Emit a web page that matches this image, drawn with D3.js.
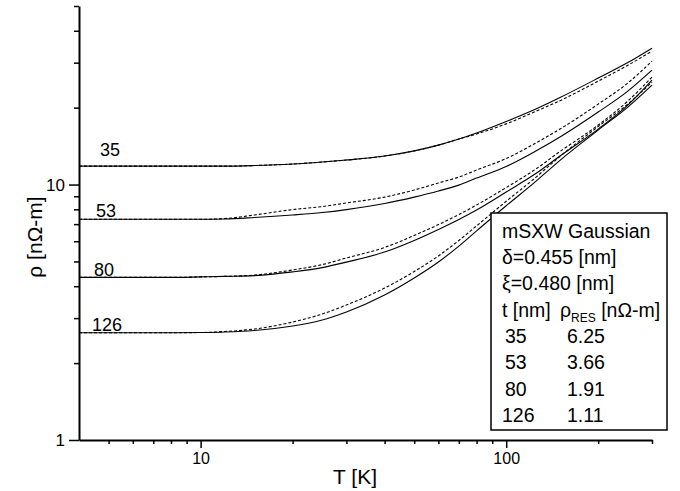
<!DOCTYPE html>
<html>
<head>
<meta charset="utf-8">
<script src="https://d3js.org/d3.v7.min.js"></script>
<style>
  body { margin: 0; background: #fff; }
  text { font-family: Arial, "Liberation Sans", sans-serif; fill: #000; }
</style>
</head>
<body>
<div id="chart"></div>
<script>
const TEMPS = [4, 6, 8, 10, 12, 15, 20, 25, 30, 40, 50, 60, 70, 80, 100, 125, 150, 200, 250, 300];

// measured (solid) and mSXW fit (dashed) resistivity, nOhm-m
const RHO_35_DATA = [11.81, 11.81, 11.81, 11.81, 11.81, 11.87, 12.03, 12.25, 12.47, 12.93, 13.55, 14.27, 15.07, 15.91, 17.65, 19.75, 21.91, 26.11, 30.03, 34.2];
const RHO_35_FIT = [11.81, 11.81, 11.81, 11.81, 11.81, 11.87, 12.03, 12.25, 12.47, 12.93, 13.55, 14.27, 15.07, 15.77, 17.28, 19.35, 21.3, 25.4, 29.3, 33.3];
const RHO_53_DATA = [7.31, 7.31, 7.31, 7.31, 7.33, 7.43, 7.60, 7.77, 7.98, 8.43, 8.93, 9.43, 9.95, 10.60, 11.77, 13.53, 15.35, 19.22, 23.22, 28.06];
const RHO_53_FIT = [7.31, 7.31, 7.31, 7.31, 7.36, 7.60, 7.98, 8.20, 8.47, 8.93, 9.52, 10.14, 10.70, 11.40, 12.64, 14.54, 16.49, 20.65, 24.96, 30.44];
const RHO_80_DATA = [4.33, 4.33, 4.33, 4.35, 4.37, 4.40, 4.55, 4.73, 4.97, 5.44, 6.04, 6.67, 7.30, 7.95, 9.35, 11.04, 12.93, 16.49, 20.47, 25.64];
const RHO_80_FIT = [4.33, 4.33, 4.33, 4.35, 4.37, 4.42, 4.63, 4.86, 5.16, 5.67, 6.32, 6.97, 7.63, 8.32, 9.73, 11.50, 13.47, 17.10, 21.22, 26.35];
const RHO_126_DATA = [2.63, 2.63, 2.63, 2.635, 2.647, 2.683, 2.794, 2.949, 3.170, 3.694, 4.306, 4.973, 5.744, 6.585, 8.26, 10.29, 12.44, 16.34, 20.11, 24.52];
const RHO_126_FIT = [2.63, 2.63, 2.63, 2.635, 2.659, 2.719, 2.896, 3.113, 3.377, 3.934, 4.565, 5.253, 6.04, 6.89, 8.60, 10.67, 12.89, 16.87, 20.65, 25.19];

// curve labels (film thickness)
const THICKNESS = ["35", "53", "80", "126"];
// legend table
const LEGEND_HEAD = ["mSXW Gaussian", "\u03b4=0.455 [nm]", "\u03be=0.480 [nm]"];
const RES_VALUES = ["6.25", "3.66", "1.91", "1.11"];

// tick values
const X_MAJOR = [10, 100];
const X_MINOR = [5, 6, 7, 8, 9, 20, 30, 40, 50, 60, 70, 80, 90, 200, 300];
const Y_MAJOR = [1, 10];
const Y_MINOR = [2, 3, 4, 5, 6, 7, 8, 9, 20, 30, 40, 50];

// frame size
const FRAME_WIDTH = 680;
const FRAME_HEIGHT = 491;

const FRAME = d3.select("#chart")
  .append("svg")
    .attr("width", FRAME_WIDTH)
    .attr("height", FRAME_HEIGHT);

// log scales
const X_SCALE = d3.scaleLog().domain([4, 300]).range([79, 652]);
const Y_SCALE = d3.scaleLog().domain([1, 50]).range([440, 6]);

// curves
const series = [
  {label: THICKNESS[0], data: RHO_35_DATA, fit: RHO_35_FIT, lx: 100, ly: 156},
  {label: THICKNESS[1], data: RHO_53_DATA, fit: RHO_53_FIT, lx: 96, ly: 217},
  {label: THICKNESS[2], data: RHO_80_DATA, fit: RHO_80_FIT, lx: 94, ly: 276},
  {label: THICKNESS[3], data: RHO_126_DATA, fit: RHO_126_FIT, lx: 92, ly: 331}
];

const line = d3.line()
  .x((d) => X_SCALE(d[0]))
  .y((d) => Y_SCALE(d[1]))
  .curve(d3.curveMonotoneX);

series.forEach((s) => {
  FRAME.append("path")
    .attr("d", line(TEMPS.map((t, i) => [t, s.data[i]])))
    .attr("fill", "none")
    .attr("stroke", "#000")
    .attr("stroke-width", 1.1);
  FRAME.append("path")
    .attr("d", line(TEMPS.map((t, i) => [t, s.fit[i]])))
    .attr("fill", "none")
    .attr("stroke", "#000")
    .attr("stroke-width", 1.1)
    .attr("stroke-dasharray", "3,2");
  FRAME.append("text")
    .attr("x", s.lx)
    .attr("y", s.ly)
    .attr("font-size", "18px")
    .text(s.label);
});

// x axis: minor then major ticks
FRAME.append("g")
  .attr("transform", "translate(0,440)")
  .call(d3.axisBottom(X_SCALE).tickValues(X_MINOR).tickSize(4).tickFormat(""))
  .call((g) => g.select(".domain").remove())
  .selectAll("line").attr("stroke-width", 1.5);
FRAME.append("g")
  .attr("transform", "translate(0,440)")
  .call(d3.axisBottom(X_SCALE).tickValues(X_MAJOR).tickSize(8).tickSizeOuter(0).tickPadding(5).tickFormat(d3.format("d")))
  .call((g) => g.selectAll("text").style("font-size", "16px"))
  .call((g) => g.select(".domain").attr("stroke-width", 2))
  .selectAll("line").attr("stroke-width", 1.5);

// y axis
FRAME.append("g")
  .attr("transform", "translate(79,0)")
  .call(d3.axisLeft(Y_SCALE).tickValues(Y_MINOR).tickSize(5).tickFormat(""))
  .call((g) => g.select(".domain").remove())
  .selectAll("line").attr("stroke-width", 1.5);
FRAME.append("g")
  .attr("transform", "translate(79,0)")
  .call(d3.axisLeft(Y_SCALE).tickValues(Y_MAJOR).tickSize(10).tickSizeOuter(0).tickPadding(4).tickFormat(d3.format("d")))
  .call((g) => g.selectAll("text").style("font-size", "17px"))
  .call((g) => g.select(".domain").attr("stroke-width", 2))
  .selectAll("line").attr("stroke-width", 1.5);

// axis titles
FRAME.append("text")
  .attr("x", 355)
  .attr("y", 484)
  .attr("text-anchor", "middle")
  .attr("font-size", "21px")
  .text("T [K]");
FRAME.append("text")
  .attr("transform", "translate(42,237) rotate(-90)")
  .attr("text-anchor", "middle")
  .attr("font-size", "21px")
  .text("\u03c1 [n\u03a9-m]");

// legend box
const LEG = FRAME.append("g");
LEG.append("rect")
  .attr("x", 491).attr("y", 213)
  .attr("width", 176).attr("height", 217)
  .attr("fill", "#fff")
  .attr("stroke", "#000")
  .attr("stroke-width", 1.5);
LEGEND_HEAD.forEach((t, i) => {
  LEG.append("text")
    .attr("x", 502).attr("y", 238 + i * 26.2)
    .attr("font-size", "19.5px")
    .text(t);
});
LEG.append("text")
  .attr("x", 502).attr("y", 317)
  .attr("font-size", "19.5px")
  .text("t [nm]");
const head = LEG.append("text")
  .attr("x", 560).attr("y", 317)
  .attr("font-size", "19.5px");
head.append("tspan").text("\u03c1");
head.append("tspan").attr("font-size", "12px").attr("dy", 5).text("RES");
head.append("tspan").attr("dy", -5).text(" [n\u03a9-m]");
THICKNESS.forEach((t, i) => {
  LEG.append("text")
    .attr("x", t.length > 2 ? 502 : 505).attr("y", 343 + i * 26.3)
    .attr("font-size", "19.5px")
    .text(t);
  LEG.append("text")
    .attr("x", 567).attr("y", 343 + i * 26.3)
    .attr("font-size", "19.5px")
    .text(RES_VALUES[i]);
});
</script>
</body>
</html>
